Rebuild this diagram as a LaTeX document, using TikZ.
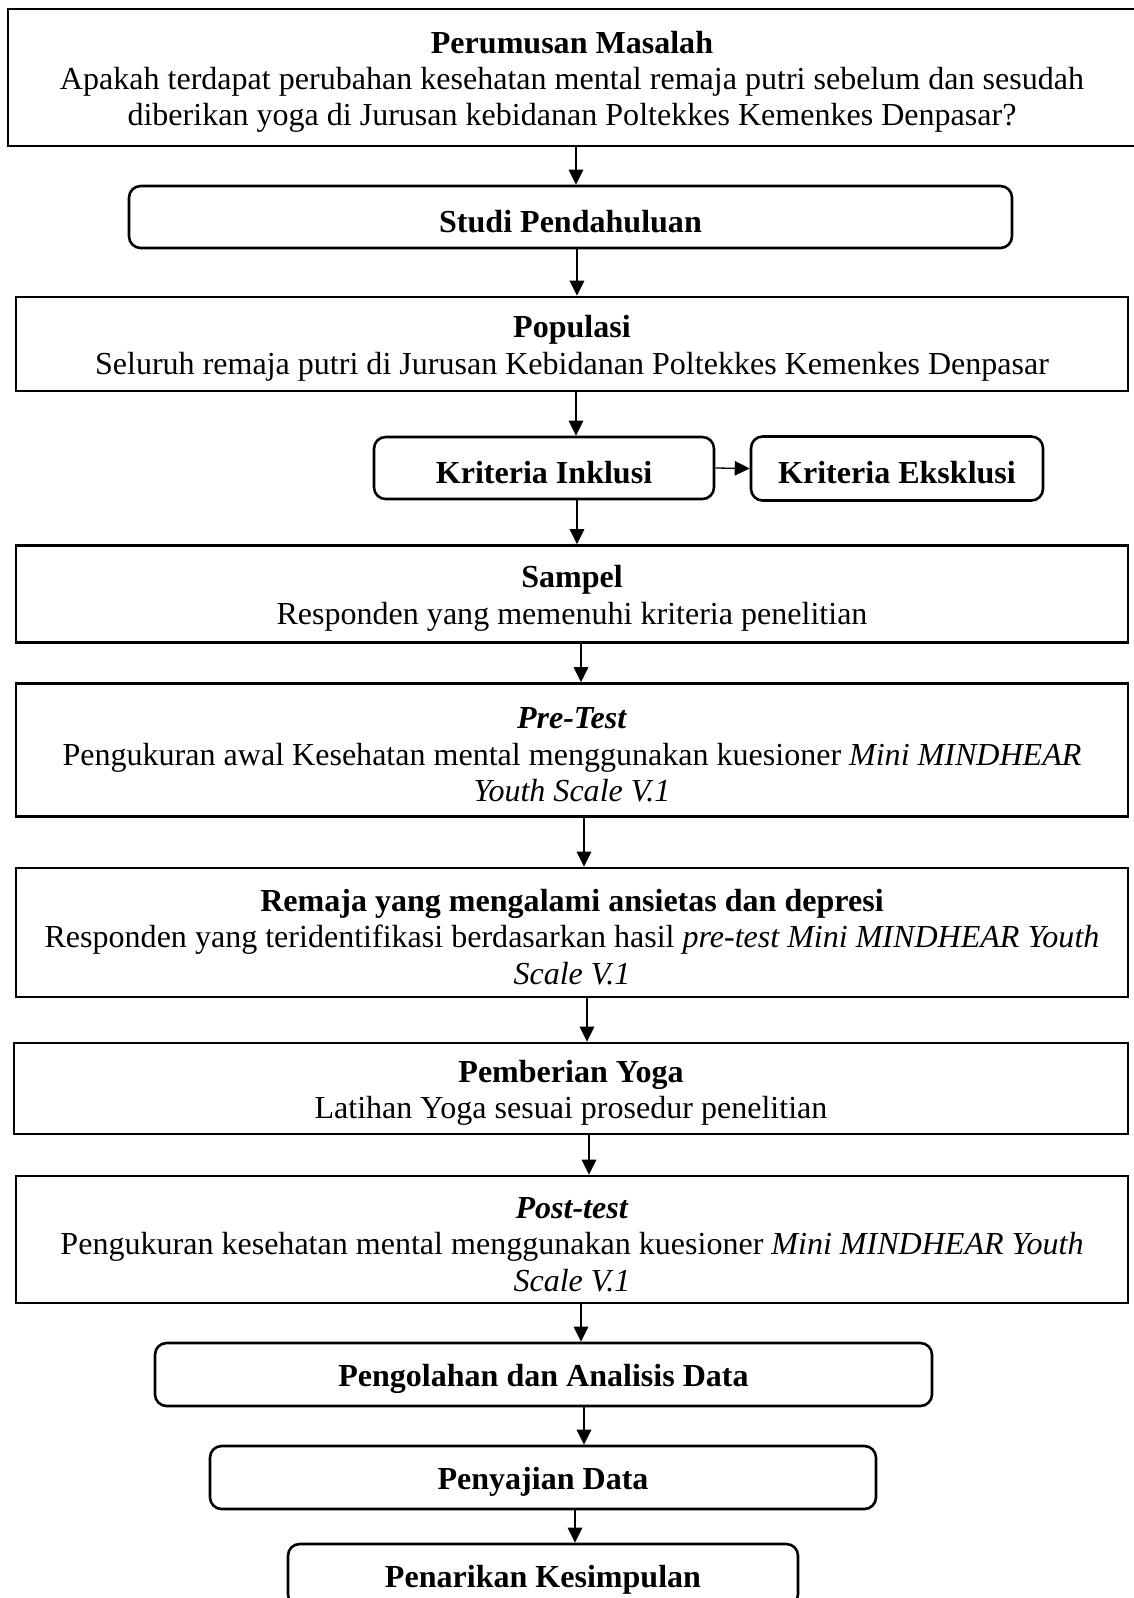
\documentclass[tikz,border=0pt]{standalone}
\usepackage{fontspec}
\setmainfont{Liberation Serif}
\usetikzlibrary{arrows.meta,calc}

\newcommand\hstrut{\rule{0pt}{12pt}}

\begin{document}
\begin{tikzpicture}[x=0.387pt, y=-0.387pt,
        font=\fontsize{12.4}{14.1}\selectfont,
        box/.style={draw, line width=1pt, align=center, inner sep=0pt},
        rbox/.style={box, rounded corners=4.5pt},
        sz/.style 2 args={minimum width=#1*0.387pt, minimum height=#2*0.387pt},
        arr/.style={-{Triangle[length=5.8pt,width=5.6pt]}, line width=0.5pt}]
    \useasboundingbox (0,0) rectangle (1133,1598);
    \node [box, sz={1128}{137}] (masalah) at (572,77.5) {\hstrut\textbf{Perumusan Masalah}\\Apakah terdapat perubahan kesehatan mental remaja putri sebelum dan sesudah\\diberikan yoga di Jurusan kebidanan Poltekkes Kemenkes Denpasar?};
    \node [rbox, sz={883}{62}] (studi) at (570.5,217) {\hstrut\textbf{Studi Pendahuluan}};
    \node [box, sz={1112}{94}] (populasi) at (572,344) {\hstrut\textbf{Populasi}\\Seluruh remaja putri di Jurusan Kebidanan Poltekkes Kemenkes Denpasar};
    \node [rbox, sz={340}{62}] (inklusi) at (544,468) {\hstrut\textbf{Kriteria Inklusi}};
    \node [rbox, sz={292}{64}] (eksklusi) at (897,468.5) {\hstrut\textbf{Kriteria Eksklusi}};
    \node [box, sz={1112}{97}] (sampel) at (572,594) {\hstrut\textbf{Sampel}\\Responden yang memenuhi kriteria penelitian};
    \node [box, sz={1112}{133}] (pretest) at (572,750) {\hstrut\textbf{\textit{Pre-Test}}\\Pengukuran awal Kesehatan mental menggunakan kuesioner \textit{Mini MINDHEAR}\\\textit{Youth Scale V.1}};
    \node [box, sz={1112}{129}] (remaja) at (572,932.5) {\hstrut\textbf{Remaja yang mengalami ansietas dan depresi}\\Responden yang teridentifikasi berdasarkan hasil \textit{pre-test Mini MINDHEAR Youth}\\\textit{Scale V.1}};
    \node [box, sz={1114}{91}] (yoga) at (571,1088.5) {\hstrut\textbf{Pemberian Yoga}\\Latihan Yoga sesuai prosedur penelitian};
    \node [box, sz={1112}{127}] (posttest) at (572,1239.5) {\hstrut\textbf{\textit{Post-test}}\\Pengukuran kesehatan mental menggunakan kuesioner \textit{Mini MINDHEAR Youth}\\\textit{Scale V.1}};
    \node [rbox, sz={777}{63}] (olah) at (543.5,1374.5) {\hstrut\textbf{Pengolahan dan Analisis Data}};
    \node [rbox, sz={666}{63}] (saji) at (543,1477.5) {\hstrut\textbf{Penyajian Data}};
    \node [rbox, sz={510}{62}] (tarik) at (543,1575) {\hstrut\textbf{Penarikan Kesimpulan}};

    % alur
    \draw [arr] (masalah.south -| 576,0) -- (studi.north -| 576,0);
    \draw [arr] (studi.south -| 577,0) -- (populasi.north -| 577,0);
    \draw [arr] (populasi.south -| 576,0) -- (inklusi.north -| 576,0);
    \draw [arr] (inklusi.east) -- (eksklusi.west);
    \draw [arr] (inklusi.south -| 577,0) -- (sampel.north -| 577,0);
    \draw [arr] (sampel.south -| 581,0) -- (pretest.north -| 581,0);
    \draw [arr] (pretest.south -| 584,0) -- (remaja.north -| 584,0);
    \draw [arr] (remaja.south -| 587,0) -- (yoga.north -| 587,0);
    \draw [arr] (yoga.south -| 589,0) -- (posttest.north -| 589,0);
    \draw [arr] (posttest.south -| 581,0) -- (olah.north -| 581,0);
    \draw [arr] (olah.south -| 584,0) -- (saji.north -| 584,0);
    \draw [arr] (saji.south -| 575,0) -- (tarik.north -| 575,0);
\end{tikzpicture}
\end{document}
